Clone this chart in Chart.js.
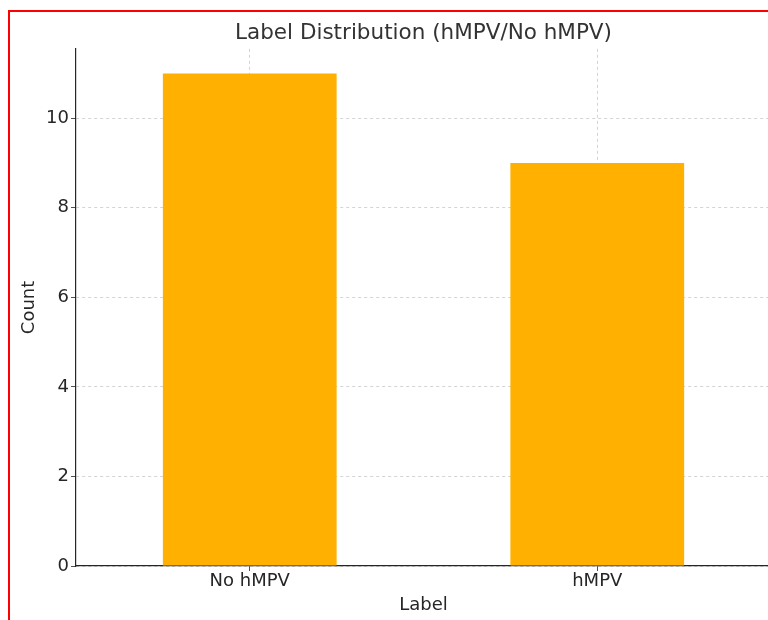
<!DOCTYPE html>
<html>
<head>
<meta charset="utf-8">
<script src="https://cdn.jsdelivr.net/npm/chart.js@4/dist/chart.umd.min.js"></script>
<style>
  html, body { margin: 0; padding: 0; background: #fff; }
  #wrap { position: relative; width: 768px; height: 620px; overflow: hidden; }
  #wrap canvas { position: absolute; left: 0; top: 0; }
  #frame { position: absolute; left: 8px; top: 10px; width: 900px; height: 900px; border: 2px solid #f00; pointer-events: none; }
</style>
</head>
<body>
<div id="wrap">
  <canvas id="c" width="780" height="620"></canvas>
  <div id="frame"></div>
</div>
<script>
// data
const CATEGORIES = ['No hMPV', 'hMPV'];
const COUNTS = [11, 9];
const Y_TICKS = [0, 2, 4, 6, 8, 10];

const FONT = 'DejaVu Sans';
const INK = '#262626';
const GRID = '#c8c8c8';

// matplotlib centres the title over the axes, not the whole figure
const centerTitle = {
  id: 'centerTitle',
  afterLayout(chart) {
    const t = chart.titleBlock;
    if (!t) return;
    t.left = chart.chartArea.left;
    t.right = chart.chartArea.right;
    t.width = t.right - t.left;
  },
};

new Chart(document.getElementById('c'), {
  type: 'bar',
  data: {
    labels: CATEGORIES,
    datasets: [{ data: COUNTS, backgroundColor: '#FFB000', categoryPercentage: 1, barPercentage: 0.5 }],
  },
  plugins: [centerTitle],
  options: {
    responsive: false,
    animation: false,
    layout: { padding: { left: 0, right: 9, top: 0, bottom: 0 } },
    plugins: {
      legend: { display: false },
      tooltip: { enabled: false },
      title: {
        display: true,
        text: 'Label Distribution (hMPV/No hMPV)',
        color: '#333',
        font: { family: FONT, size: 21.5, weight: 'normal' },
        padding: { top: 21, bottom: 2 },
      },
    },
    scales: {
      x: {
        offset: true,
        grid: { offset: false, color: GRID, lineWidth: 0.8, tickColor: INK, tickLength: 5, tickBorderDash: [] },
        border: { display: true, color: INK, width: 1.2, dash: [3, 3] },
        ticks: { color: INK, font: { family: FONT, size: 18 }, padding: 0 },
        title: { display: true, text: 'Label', color: INK, font: { family: FONT, size: 18 }, padding: { top: 0, bottom: 4 } },
        afterFit: (s) => { s.height = 54; },
      },
      y: {
        min: 0,
        max: 11.55,
        afterBuildTicks: (s) => { s.ticks = Y_TICKS.map((v) => ({ value: v })); },
        grid: { color: GRID, lineWidth: 0.8, tickColor: INK, tickLength: 5, tickBorderDash: [] },
        border: { display: true, color: INK, width: 1.2, dash: [3, 3] },
        ticks: { color: INK, font: { family: FONT, size: 18 }, padding: 2 },
        title: { display: true, text: 'Count', color: INK, font: { family: FONT, size: 18 }, padding: { top: 19, bottom: 0 } },
        afterFit: (s) => { s.width = 76; },
      },
    },
  },
});
</script>
</body>
</html>
